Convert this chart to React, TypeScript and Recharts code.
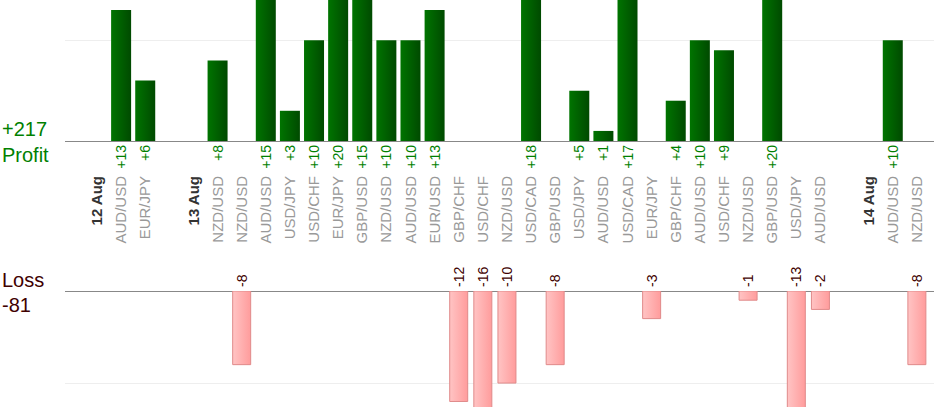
import React from "react";
import { BarChart, Bar, XAxis, YAxis, CartesianGrid, LabelList } from "recharts";

const categories = ["12 Aug","AUD/USD","EUR/JPY","","13 Aug","NZD/USD","NZD/USD","AUD/USD","USD/JPY","USD/CHF","EUR/JPY","GBP/USD","NZD/USD","AUD/USD","EUR/USD","GBP/CHF","USD/CHF","NZD/USD","USD/CAD","GBP/USD","USD/JPY","AUD/USD","USD/CAD","EUR/JPY","GBP/CHF","AUD/USD","USD/CHF","NZD/USD","GBP/USD","USD/JPY","AUD/USD","","14 Aug","AUD/USD","NZD/USD"];
const profits = [null,13,6,null,null,8,null,15,3,10,20,15,10,10,13,null,null,null,18,null,5,1,17,null,4,10,9,null,20,null,null,null,null,10,null];
const losses = [null,null,null,null,null,null,-8,null,null,null,null,null,null,null,null,-12,-16,-10,null,-8,null,null,null,-3,null,null,null,-1,null,-13,-2,null,null,null,-8];

const data = categories.map((c, i) => ({ key: String(i), cat: c, profit: profits[i], loss: losses[i] }));
const FONT = "Arial, 'Liberation Sans', sans-serif";

const Tick = (props: any) => {
  const { x, y, payload } = props;
  const d = data[Number(payload.value)];
  const isDate = /Aug/.test(d.cat);
  return (
    <g>
      {d.profit != null && (
        <text transform={`translate(${x + 5},${y + 4}) rotate(-90)`} textAnchor="end" fontSize={14} fill="#008000" fontFamily={FONT}>
          {"+" + d.profit}
        </text>
      )}
      <text transform={`translate(${x + 5},${y + 35}) rotate(-90)`} textAnchor="end" fontSize={15}
        fill={isDate ? "#333" : "#999"} fontWeight={isDate ? "bold" : "normal"} fontFamily={FONT}>
        {d.cat}
      </text>
    </g>
  );
};

const LossLabel = (props: any) => {
  const { x, y, width, height, value } = props;
  if (value == null) return null;
  const top = Math.min(y, y + height);
  return (
    <text transform={`translate(${x + width / 2 + 5},${top - 4}) rotate(-90)`} textAnchor="start" fontSize={14} fill="#400000" fontFamily={FONT}>
      {value}
    </text>
  );
};

const txt = (top: number, s: string, color: string) => (
  <div style={{ position: "absolute", left: 2, top, fontSize: 20, color, fontFamily: FONT, lineHeight: "24px" }}>{s}</div>
);
const hline = (top: number, color: string) => (
  <div style={{ position: "absolute", left: 65, top, width: 869, height: 1, background: color }} />
);

export default function App() {
  return (
    <div style={{ position: "absolute", left: 0, top: 0, width: 934, height: 420, background: "#fff", overflow: "hidden" }}>
      {hline(40, "#eee")}
      {hline(141, "#888")}
      {hline(383, "#eee")}
      {hline(291, "#888")}
      <div style={{ position: "absolute", left: 0, top: 0 }}>
        <BarChart width={934} height={260} data={data} margin={{ top: 0, right: 5, left: 85, bottom: 0 }}>
          <defs>
            <linearGradient id="g" x1="0" y1="0" x2="1" y2="0">
              <stop offset="0" stopColor="#007400" />
              <stop offset="1" stopColor="#004a00" />
            </linearGradient>
          </defs>
          <YAxis hide domain={[0, 14]} allowDataOverflow />
          <XAxis dataKey="key" height={119} tickLine={false} tickSize={0} tickMargin={0}
            axisLine={false} interval={0} tick={<Tick />} />
          <Bar dataKey="profit" fill="url(#g)" barSize={20} isAnimationActive={false} />
        </BarChart>
      </div>
      <div style={{ position: "absolute", left: 0, top: 250 }}>
        <BarChart width={934} height={170} data={data} margin={{ top: 41, right: 5, left: 85, bottom: 13 }}>
          <defs>
            <linearGradient id="r" x1="0" y1="0" x2="1" y2="0">
              <stop offset="0" stopColor="#ffc4c4" />
              <stop offset="1" stopColor="#ff9c9c" />
            </linearGradient>
          </defs>
          <YAxis hide domain={[-12.6, 0]} allowDataOverflow />
          <XAxis dataKey="key" hide />
          <Bar dataKey="loss" fill="url(#r)" stroke="#e08a8a" barSize={18} isAnimationActive={false}>
            <LabelList dataKey="loss" content={<LossLabel />} />
          </Bar>
        </BarChart>
      </div>
      {txt(117, "+217", "#008000")}
      {txt(143, "Profit", "#008000")}
      {txt(268, "Loss", "#400000")}
      {txt(293, "-81", "#400000")}
    </div>
  );
}
